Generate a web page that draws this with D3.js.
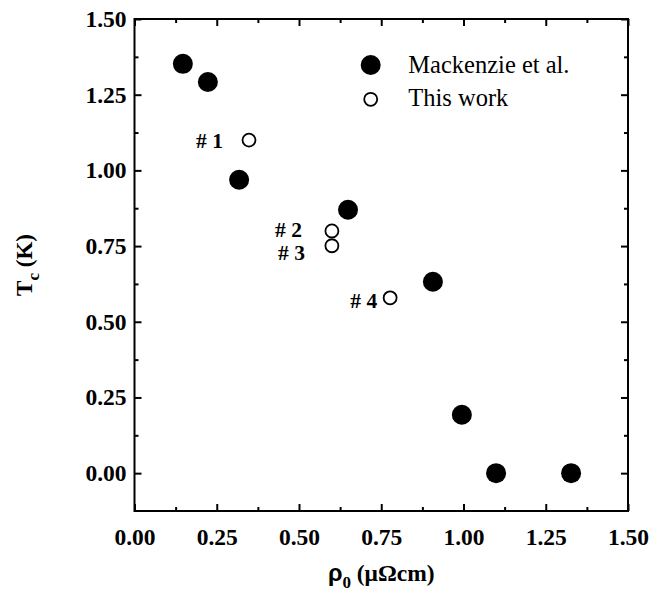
<!DOCTYPE html>
<html>
<head>
<meta charset="utf-8">
<script src="https://cdn.jsdelivr.net/npm/d3@7"></script>
<style>
  body { margin: 0; background: #fff; }
</style>
</head>
<body>
<div id="chart"></div>
<script>
// Mackenzie et al. (filled)
const mackRho = [0.147, 0.223, 0.318, 0.649, 0.907, 0.995, 1.099, 1.327];
const mackTc  = [1.352, 1.292, 0.969, 0.870, 0.632, 0.193, 0.0, 0.0];

// This work (open)
const workRho = [0.348, 0.600, 0.600, 0.777];
const workTc  = [1.100, 0.800, 0.751, 0.579];
const workLabels = ["# 1", "# 2", "# 3", "# 4"];
// label placement relative to the point (px)
const labelShift = [[-26, 8], [-30, 6], [-27, 14.5], [-13, 10]];

const xTicks = [0, 0.25, 0.5, 0.75, 1.0, 1.25, 1.5];
const yTicks = [0, 0.25, 0.5, 0.75, 1.0, 1.25, 1.5];
const legendNames = ["Mackenzie et al.", "This work"];

const FONT = "'Liberation Serif', 'Times New Roman', Times, 'DejaVu Serif', serif";

const width = 652, height = 593;
const margin = {top: 19, right: 24, bottom: 82, left: 134.5};
const plotW = width - margin.left - margin.right,
      plotH = height - margin.top - margin.bottom;

const svg = d3.select("#chart").append("svg")
    .attr("width", width)
    .attr("height", height)
    .attr("font-family", FONT);

const g = svg.append("g")
    .attr("transform", "translate(" + margin.left + "," + margin.top + ")");

const x = d3.scaleLinear().domain([0, 1.5]).range([0, plotW]);
const y = d3.scaleLinear().domain([-0.125, 1.5]).range([plotH, 0]);

const minorX = d3.range(0.125, 1.5, 0.25);
const minorY = d3.range(-0.125, 1.5, 0.25).filter(v => v > -0.1);

function tickStyle(sel) {
    sel.attr("font-family", FONT);
    sel.select(".domain").remove();
    sel.selectAll("line").attr("stroke", "#000").attr("stroke-width", 2);
    sel.selectAll("text")
        .attr("font-size", 23.5)
        .attr("font-weight", "bold")
        .attr("fill", "#000");
}

// major ticks pointing inward
g.append("g").attr("transform", "translate(0," + plotH + ")")
    .call(d3.axisBottom(x).tickValues(xTicks).tickSize(-7).tickPadding(17).tickFormat(d3.format(".2f")))
    .call(tickStyle);
g.append("g")
    .call(d3.axisTop(x).tickValues(xTicks).tickSize(-7).tickFormat(""))
    .call(tickStyle);
g.append("g")
    .call(d3.axisLeft(y).tickValues(yTicks).tickSize(-7).tickPadding(8).tickFormat(d3.format(".2f")))
    .call(tickStyle);
g.append("g").attr("transform", "translate(" + plotW + ",0)")
    .call(d3.axisRight(y).tickValues(yTicks).tickSize(-7).tickFormat(""))
    .call(tickStyle);

// minor ticks
g.append("g").attr("transform", "translate(0," + plotH + ")")
    .call(d3.axisBottom(x).tickValues(minorX).tickSize(-4).tickFormat(""))
    .call(tickStyle);
g.append("g")
    .call(d3.axisTop(x).tickValues(minorX).tickSize(-4).tickFormat(""))
    .call(tickStyle);
g.append("g")
    .call(d3.axisLeft(y).tickValues(minorY).tickSize(-4).tickFormat(""))
    .call(tickStyle);
g.append("g").attr("transform", "translate(" + plotW + ",0)")
    .call(d3.axisRight(y).tickValues(minorY).tickSize(-4).tickFormat(""))
    .call(tickStyle);

// frame
g.append("rect")
    .attr("width", plotW).attr("height", plotH)
    .attr("fill", "none").attr("stroke", "#000").attr("stroke-width", 2);

// data
const mack = mackRho.map((r, i) => ({rho: r, tc: mackTc[i]}));
const work = workRho.map((r, i) => ({rho: r, tc: workTc[i], label: workLabels[i], shift: labelShift[i]}));

g.selectAll("circle.mack").data(mack).enter().append("circle")
    .attr("class", "mack")
    .attr("cx", d => x(d.rho))
    .attr("cy", d => y(d.tc))
    .attr("r", 10)
    .attr("fill", "#000");

g.selectAll("circle.work").data(work).enter().append("circle")
    .attr("class", "work")
    .attr("cx", d => x(d.rho))
    .attr("cy", d => y(d.tc))
    .attr("r", 6.5)
    .attr("fill", "#fff")
    .attr("stroke", "#000")
    .attr("stroke-width", 1.8);

g.selectAll("text.lbl").data(work).enter().append("text")
    .attr("class", "lbl")
    .attr("x", d => x(d.rho) + d.shift[0])
    .attr("y", d => y(d.tc) + d.shift[1])
    .attr("text-anchor", "end")
    .attr("font-size", 21.5)
    .attr("font-weight", "bold")
    .text(d => d.label);

// legend
const legend = g.append("g").attr("transform", "translate(" + (370.7 - margin.left) + "," + (65 - margin.top) + ")");
legend.append("circle").attr("r", 10).attr("fill", "#000");
legend.append("circle").attr("cy", 34.3).attr("r", 6.5)
    .attr("fill", "#fff").attr("stroke", "#000").attr("stroke-width", 1.8);
legend.selectAll("text").data(legendNames).enter().append("text")
    .attr("x", 37.6)
    .attr("y", (d, i) => 8 + i * 33)
    .attr("font-size", 24.5)
    .text(d => d);

// axis titles
const xt = svg.append("text")
    .attr("x", margin.left + plotW / 2)
    .attr("y", 581)
    .attr("text-anchor", "middle")
    .attr("font-size", 23.5)
    .attr("font-weight", "bold");
xt.append("tspan").attr("font-family", "'Liberation Sans', Arial, sans-serif").text("ρ");
xt.append("tspan").attr("dy", 7).attr("font-size", 17).text("0");
xt.append("tspan").attr("dy", -7).text(" (μΩcm)");

const yt = svg.append("text")
    .attr("transform", "translate(32," + (margin.top + plotH / 2) + ") rotate(-90)")
    .attr("text-anchor", "middle")
    .attr("font-size", 23)
    .attr("font-weight", "bold");
yt.append("tspan").text("T");
yt.append("tspan").attr("dy", 7).attr("font-size", 17).text("c");
yt.append("tspan").attr("dy", -7).text(" (K)");
</script>
</body>
</html>
